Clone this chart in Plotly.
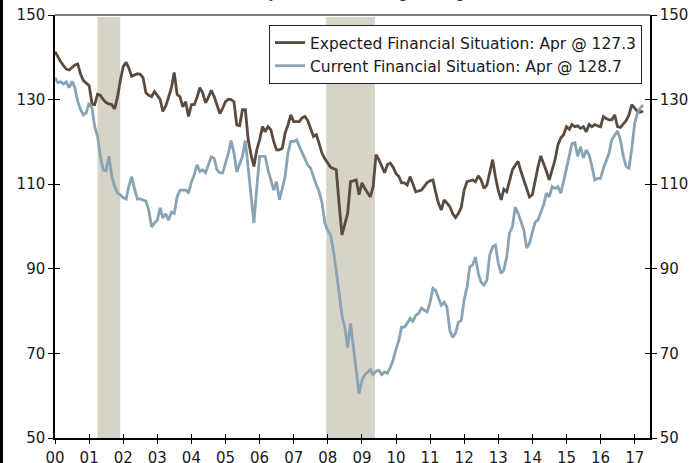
import pandas as pd
import plotly.graph_objects as go

# ---------------- data ----------------
dates = pd.date_range("2000-01-01", periods=208, freq="MS")

expected = [
    141.3, 140.0, 139.0, 138.0, 137.2, 137.0, 137.5, 138.2, 138.4, 136.0, 134.5, 133.8,  # 2000
    133.3, 128.9, 128.8, 131.3, 131.0, 130.0, 129.3, 129.0, 128.8, 127.8, 130.7, 134.5,  # 2001
    137.8, 138.8, 137.5, 135.5, 135.8, 136.1, 136.0, 135.2, 131.6, 131.0, 130.7, 131.9,  # 2002
    131.0, 130.0, 127.2, 128.5, 130.5, 132.8, 136.4, 131.2, 130.7, 128.3, 129.5, 126.0,  # 2003
    128.8, 128.8, 130.5, 132.8, 131.6, 129.2, 130.5, 132.2, 130.7, 128.5, 126.7, 128.0,  # 2004
    129.5, 130.1, 130.0, 129.5, 124.0, 123.8, 127.6, 127.6, 120.5, 117.0, 114.2, 118.1,  # 2005
    120.5, 123.6, 122.4, 123.6, 122.9, 120.1, 118.1, 118.1, 118.5, 122.1, 124.0, 126.4,  # 2006
    124.8, 124.8, 124.8, 125.7, 126.0, 125.0, 123.3, 121.3, 121.7, 119.5, 117.3, 116.0,  # 2007
    115.0, 114.0, 113.7, 113.4, 105.5, 98.0, 100.5, 103.1, 110.6, 110.8, 111.0, 107.5,   # 2008
    110.3, 109.0, 107.9, 107.0, 109.4, 117.0, 115.8, 114.0, 112.7, 114.6, 115.0, 114.0,  # 2009
    112.5, 111.8, 110.3, 110.3, 109.8, 111.8, 110.0, 108.2, 108.4, 108.6, 109.5, 110.4,  # 2010
    110.8, 111.0, 108.2, 105.5, 103.9, 106.3, 105.5, 104.7, 103.0, 102.1, 103.1, 104.5,  # 2011
    108.6, 110.6, 110.8, 111.0, 110.6, 112.0, 111.0, 109.0, 109.8, 112.5, 115.8, 111.8,  # 2012
    108.5, 106.3, 108.8, 108.2, 110.5, 113.4, 114.5, 115.4, 113.0, 111.0, 109.0, 107.0,  # 2013
    107.5, 111.4, 114.0, 116.7, 115.0, 113.0, 111.0, 113.5, 115.8, 119.3, 120.9, 121.7,  # 2014
    123.6, 123.0, 124.1, 123.6, 123.8, 123.2, 123.6, 122.4, 124.1, 123.6, 124.1, 123.8,  # 2015
    123.6, 126.0, 125.5, 125.2, 125.2, 126.4, 123.6, 123.4, 124.1, 125.0, 126.4, 128.8,  # 2016
    128.0, 127.2, 127.0, 127.3,                                                          # 2017
]

current = [
    135.2, 134.0, 134.2, 133.7, 134.2, 132.8, 134.3, 132.8, 129.5, 127.6, 126.4, 126.9,  # 2000
    129.2, 128.0, 123.6, 121.3, 116.6, 113.4, 113.2, 116.6, 111.8, 109.5, 107.9, 107.5,  # 2001
    106.8, 106.5, 109.4, 111.8, 109.0, 106.5, 106.5, 106.3, 106.0, 103.9, 99.9, 100.8,   # 2002
    101.5, 104.4, 102.0, 103.0, 101.5, 103.4, 103.1, 107.0, 108.6, 108.6, 108.6, 107.9,  # 2003
    110.5, 112.2, 114.6, 113.0, 113.4, 112.7, 114.4, 116.5, 116.1, 113.4, 112.7, 112.7,  # 2004
    115.0, 117.4, 120.3, 117.4, 112.9, 115.0, 116.6, 120.3, 113.4, 107.0, 100.8, 109.0,  # 2005
    116.6, 116.6, 116.6, 113.4, 111.0, 108.6, 110.6, 106.3, 109.0, 111.8, 117.4, 120.1,  # 2006
    120.1, 120.5, 119.0, 117.4, 115.8, 114.5, 113.8, 111.5, 109.8, 108.2, 105.6, 100.8,  # 2007
    99.0, 97.9, 94.4, 89.5, 84.5, 79.0, 76.2, 71.4, 77.1, 71.4, 67.0, 60.5,              # 2008
    63.6, 65.0, 65.5, 66.2, 65.0, 65.8, 66.0, 65.0, 65.6, 65.3, 66.7, 68.4,              # 2009
    71.0, 73.1, 76.2, 76.2, 77.1, 78.3, 77.6, 79.0, 79.5, 80.7, 80.2, 79.8,              # 2010
    82.1, 85.4, 84.9, 83.0, 81.4, 82.1, 80.9, 75.4, 73.8, 74.8, 77.4, 77.8,              # 2011
    82.6, 85.7, 90.4, 90.9, 92.8, 88.9, 86.8, 86.1, 87.3, 93.2, 95.2, 95.6,              # 2012
    91.3, 88.9, 89.7, 92.8, 98.5, 99.9, 104.6, 103.1, 101.1, 99.2, 94.9, 96.0,           # 2013
    98.7, 101.1, 101.5, 103.1, 105.1, 107.9, 107.0, 109.4, 109.0, 109.4, 107.9, 110.6,   # 2014
    113.8, 116.6, 119.6, 119.8, 116.6, 118.9, 116.2, 118.1, 116.9, 114.2, 111.0, 111.4,  # 2015
    111.4, 113.8, 115.5, 117.3, 120.5, 121.5, 122.6, 120.5, 116.6, 114.2, 113.8, 118.5,  # 2016
    124.4, 126.9, 128.0, 128.7,                                                          # 2017
]

series_names = ["Expected Financial Situation: Apr @ 127.3",
                "Current Financial Situation: Apr @ 128.7"]

tick_dates = [f"{y}-01-01" for y in range(2000, 2018)]
tick_labels = ["00", "01", "02", "03", "04", "05", "06", "07", "08",
               "09", "10", "11", "12", "13", "14", "15", "16", "17"]
y_ticks = [50, 70, 90, 110, 130, 150]

recession_starts = ["2001-04-01", "2007-12-15"]
recession_ends = ["2001-11-30", "2009-05-20"]

title_text = "Consumer Survey, 3-Month Moving Average, Index"

# ---------------- figure ----------------
FONT = "DejaVu Sans, Verdana, sans-serif"
BROWN = "#5B4B3F"
BLUE = "#87A3B4"
SHADE = "#D7D3C7"
X_RANGE = ["2000-01-01", "2017-06-14"]
PLOT_H = 463 - 15 - 25

fig = go.Figure()
fig.add_trace(go.Scatter(x=dates, y=expected, mode="lines", name=series_names[0],
                         line=dict(color=BROWN, width=2.8)))
fig.add_trace(go.Scatter(x=dates, y=current, mode="lines", name=series_names[1],
                         line=dict(color=BLUE, width=2.8)))
# empty helper traces so the extra (cross-tick / right-side) axes get drawn
for ya in ["y2", "y3", "y4"]:
    fig.add_trace(go.Scatter(x=[], y=[], xaxis="x2", yaxis=ya, mode="lines",
                             showlegend=False, hoverinfo="skip"))

for s, e in zip(recession_starts, recession_ends):
    fig.add_shape(type="rect", xref="x", yref="paper", x0=s, x1=e, y0=0, y1=0.995,
                  fillcolor=SHADE, line=dict(width=0), layer="below")

# top frame line (grey)
fig.add_shape(type="line", xref="paper", yref="paper", x0=0, x1=1, y0=1, y1=1,
              line=dict(color="#808080", width=2))
# dark strip at far left edge of the picture
fig.add_shape(type="rect", xref="paper", yref="paper", x0=-55/595, x1=-52/595,
              y0=-26/PLOT_H, y1=1 + 16/PLOT_H, fillcolor="black", line=dict(width=0))

fig.add_annotation(text=title_text, xref="paper", yref="paper", x=0.47, y=1 + 10.5/PLOT_H,
                   xanchor="center", yanchor="bottom", showarrow=False,
                   font=dict(family=FONT, size=15, color="#333333"))

tickfont = dict(family=FONT, size=15, color="#1a1a1a")
common_y = dict(range=[50, 150], tickmode="array", tickvals=y_ticks, showgrid=False,
                zeroline=False, tickcolor="black", tickwidth=1.3, automargin=False)
common_x = dict(type="date", range=X_RANGE, tickmode="array", tickvals=tick_dates,
                showgrid=False, zeroline=False, tickcolor="black", tickwidth=1.3,
                automargin=False)

fig.update_layout(
    template="none",
    width=693, height=463,
    margin=dict(l=55, r=43, t=15, b=25, autoexpand=False),
    paper_bgcolor="white", plot_bgcolor="white",
    font=dict(family=FONT, color="#1a1a1a"),
    showlegend=True,
    legend=dict(x=(642 - 55) / 595, y=1 - (25 - 15) / PLOT_H, xanchor="right", yanchor="top",
                bordercolor="#222222", borderwidth=1, bgcolor="white",
                font=dict(family=FONT, size=15.5, color="#1a1a1a"),
                tracegroupgap=0, itemwidth=30),
    xaxis=dict(**common_x, ticktext=tick_labels, ticks="outside", ticklen=4,
               showline=True, linecolor="black", linewidth=1.5,
               tickfont=tickfont, ticklabelstandoff=1),
    xaxis2=dict(**common_x, overlaying="x", side="bottom", anchor="y",
                ticks="inside", ticklen=4, showticklabels=False, showline=False),
    yaxis=dict(**common_y, side="left", ticks="outside", ticklen=5, showline=True,
               linecolor="black", linewidth=1.5, tickfont=tickfont),
    yaxis2=dict(**common_y, side="right", overlaying="y", anchor="x", ticks="outside",
                ticklen=5, showline=True, linecolor="black", linewidth=1.5,
                tickfont=tickfont),
    yaxis3=dict(**common_y, side="left", overlaying="y", anchor="x", ticks="inside",
                ticklen=5, showline=False, showticklabels=False),
    yaxis4=dict(**common_y, side="right", overlaying="y", anchor="x", ticks="inside",
                ticklen=5, showline=False, showticklabels=False),
)

# remove the browser's default 8px body margin so the figure sits at (0, 0)
fig.write_html("out.html", config={"displayModeBar": False},
               post_script="document.body.style.margin='0';document.body.style.overflow='hidden';")
